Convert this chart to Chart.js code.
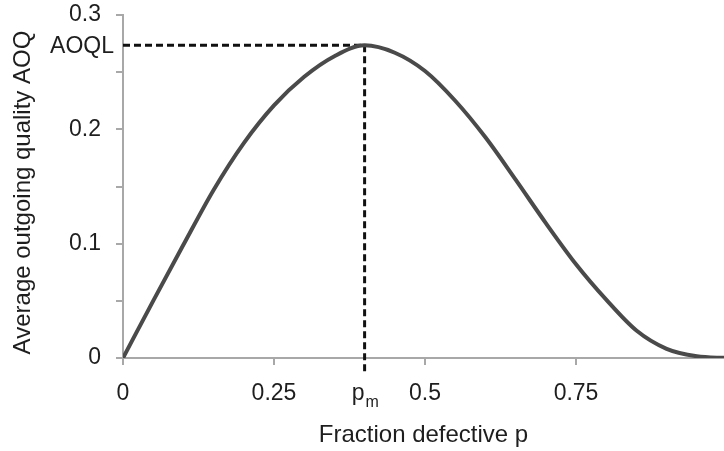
<!DOCTYPE html>
<html>
<head>
<meta charset="utf-8">
<script src="https://cdn.jsdelivr.net/npm/chart.js@4.4.1/dist/chart.umd.min.js"></script>
<style>
  html, body { margin: 0; padding: 0; background: #ffffff; }
  #wrap { width: 724px; height: 451px; position: relative; }
</style>
</head>
<body>
<div id="wrap"><canvas id="c"></canvas></div>
<script>
// ---- data ----
const fractionDefective = [0, 0.05, 0.1, 0.15, 0.2, 0.25, 0.3, 0.35, 0.4, 0.45, 0.5, 0.55, 0.6, 0.65, 0.7, 0.75, 0.8, 0.85, 0.9, 0.95, 1.0];
const aoqValues = [0, 0.050, 0.099, 0.147, 0.188, 0.221, 0.246, 0.264, 0.2735, 0.267, 0.251, 0.225, 0.193, 0.156, 0.118, 0.082, 0.051, 0.024, 0.008, 0.0015, 0];
const xTickValues = [0, 0.25, 0.5, 0.75];
const yTickValues = [0, 0.05, 0.1, 0.15, 0.2, 0.25, 0.3];
const yLabelledTicks = [0, 0.1, 0.2, 0.3];
const pm = 0.4;          // p at maximum AOQ
const aoql = 0.2735;     // maximum AOQ
const pmLineBottom = -0.015;
const xMax = 0.995;
const yMax = 0.3;
const aoqlLabel = 'AOQL';
const pmLabelMain = 'p';
const pmLabelSub = 'm';
const xTitle = 'Fraction defective p';
const yTitle = 'Average outgoing quality AOQ';

const FONT = '"Liberation Sans", Arial, sans-serif';
const TEXT = '#1e1e1e';
const AXIS = '#a8a8a8';

const curve = fractionDefective.map((p, i) => ({ x: p, y: aoqValues[i] }));
const hLine = [{ x: 0, y: aoql }, { x: pm, y: aoql }];
const vLine = [{ x: pm, y: aoql }, { x: pm, y: pmLineBottom }];

const extraLabels = {
  id: 'extraLabels',
  afterDraw(chart) {
    const { ctx, scales: { x, y }, chartArea } = chart;
    ctx.save();
    ctx.fillStyle = TEXT;
    ctx.font = '23px ' + FONT;
    ctx.textAlign = 'right';
    ctx.textBaseline = 'middle';
    ctx.fillText(aoqlLabel, chartArea.left - 9, y.getPixelForValue(aoql) + 1);
    const px = x.getPixelForValue(pm);
    const base = y.getPixelForValue(0);
    ctx.textBaseline = 'alphabetic';
    ctx.textAlign = 'right';
    ctx.fillText(pmLabelMain, px, base + 41.5);
    ctx.font = '16px ' + FONT;
    ctx.textAlign = 'left';
    ctx.fillText(pmLabelSub, px + 1, base + 48.5);
    // y axis title
    ctx.font = '24px ' + FONT;
    ctx.translate(23.5, (chartArea.top + chartArea.bottom) / 2 + 6);
    ctx.rotate(-Math.PI / 2);
    ctx.textAlign = 'center';
    ctx.textBaseline = 'middle';
    ctx.fillText(yTitle, 0, 0);
    ctx.restore();
  }
};

new Chart(document.getElementById('c'), {
  type: 'line',
  data: {
    datasets: [
      {
        data: curve,
        borderColor: '#4a4a4a',
        borderWidth: 4,
        pointRadius: 0,
        cubicInterpolationMode: 'monotone',
        fill: false,
        order: 0
      },
      {
        data: hLine,
        borderColor: '#111111',
        borderWidth: 3,
        borderDash: [7, 4],
        pointRadius: 0,
        clip: false,
        order: 1
      },
      {
        data: vLine,
        borderColor: '#111111',
        borderWidth: 3,
        borderDash: [7, 4],
        pointRadius: 0,
        clip: false,
        order: 1
      }
    ]
  },
  options: {
    responsive: true,
    maintainAspectRatio: false,
    animation: false,
    events: [],
    layout: { padding: { top: 15, right: 0, left: 0, bottom: 0 } },
    plugins: { legend: { display: false }, tooltip: { enabled: false } },
    scales: {
      x: {
        type: 'linear',
        min: 0,
        max: xMax,
        afterBuildTicks: (s) => { s.ticks = xTickValues.map(v => ({ value: v })); },
        afterFit: (s) => { s.height = 93; s.paddingLeft = 0; s.paddingRight = 0; },
        border: { color: AXIS, width: 2 },
        grid: { drawOnChartArea: false, drawTicks: true, tickLength: 7, color: AXIS, lineWidth: 2 },
        ticks: {
          padding: 15,
          color: TEXT,
          font: { family: FONT, size: 23 },
          maxRotation: 0,
          callback: (v) => String(v)
        },
        title: {
          display: true,
          text: xTitle,
          color: TEXT,
          font: { family: FONT, size: 24 },
          padding: { top: 0, bottom: 1 }
        }
      },
      y: {
        type: 'linear',
        min: 0,
        max: yMax,
        afterBuildTicks: (s) => { s.ticks = yTickValues.map(v => ({ value: v })); },
        afterFit: (s) => { s.width = 123; s.paddingTop = 0; s.paddingBottom = 0; },
        border: { color: AXIS, width: 2 },
        grid: { drawOnChartArea: false, drawTicks: true, tickLength: 7, color: AXIS, lineWidth: 2 },
        ticks: {
          padding: 15,
          color: TEXT,
          font: { family: FONT, size: 23 },
          callback: (v) => yLabelledTicks.some(t => Math.abs(t - v) < 1e-9) ? String(v) : ''
        },
        title: { display: false, text: yTitle }
      }
    }
  },
  plugins: [extraLabels]
});
</script>
</body>
</html>
